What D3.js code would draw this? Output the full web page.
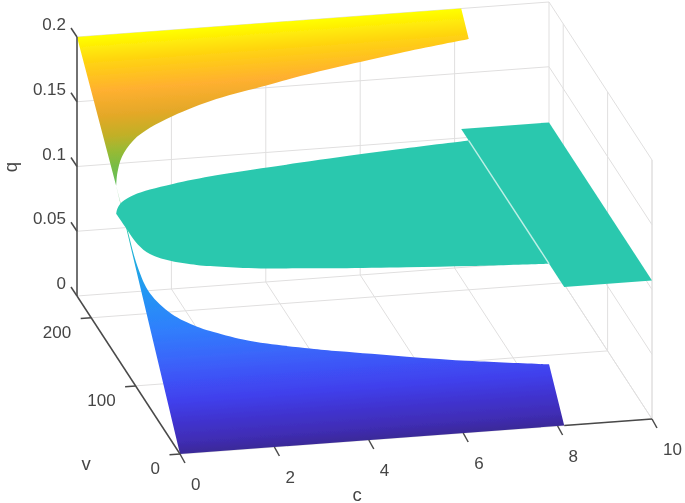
<!DOCTYPE html>
<html>
<head>
<meta charset="utf-8">
<script src="https://cdn.jsdelivr.net/npm/d3@7"></script>
<style>
  html, body { margin: 0; background: #fff; }
  text { font-family: "Liberation Sans", Arial, sans-serif; fill: #454545; stroke: none; }
</style>
</head>
<body>
<div id="chart"></div>
<script>
// tick labels
const cTicks = [0, 2, 4, 6, 8, 10];
const vTicks = [0, 100, 200];
const qTicks = [0, 0.05, 0.1, 0.15, 0.2];

// axis limits
const cMax = 10;
const vMax = 232;
const qMax = 0.2;

// edge of the surface where the plateau starts, high side (c, v)
const highC = [0.05, 0.14, 0.32, 0.64, 1.05, 1.59, 2.58, 3.71, 4.45, 5.32, 6.64, 8.14];
const highV = [149, 156, 164.8, 173.2, 179.4, 185, 192.5, 198, 201.6, 205.2, 210.2, 215];

// low side (c, v)
const lowC = [0.05, 0.06, 0.08, 0.2, 0.54, 1.0, 1.26, 1.9, 2.38, 3.25, 3.85, 5.22, 6.56, 8.14];
const lowV = [149, 128, 104, 89, 77, 69, 66, 60, 56.8, 52.4, 49.6, 44, 38.9, 34];

// both sloped sheets: q read along the sheet for a given v
const sheetV = [0, 232];
const sheetQ = [0, 0.2];

// plateau level and where the flat strip begins
const plateauQ = 0.107;
const stripC = [8.14, 10];

// colour
const colorQ = [0, 0.006, 0.014, 0.025, 0.035, 0.045, 0.06, 0.079, 0.095, 0.107, 0.125, 0.138, 0.145, 0.152, 0.162, 0.174, 0.188, 0.2];
const colorHex = ["#3a2a98", "#3f2db4", "#4032cc", "#4040ec", "#3e52f6", "#3a66fa", "#2f80fc", "#2298f2", "#1faedc", "#2bc8ae",
  "#5cc068", "#78bc44", "#98ba34", "#c0b028", "#e4a828", "#ffb030", "#ffd410", "#ffff00"];

const plateauColor = "#2bc8ae";
const seamColor = "#bdf0e6";
const gridColor = "#e0dfdf";
const axisColor = "#4a4a4a";

const width = 685, height = 503;
const originX = 180, originY = 454;

// oblique view: each data axis adds its own screen offset
const cToX = d3.scaleLinear().domain([0, cMax]).range([0, 472]);
const cToY = d3.scaleLinear().domain([0, cMax]).range([0, -35]);
const vToX = d3.scaleLinear().domain([0, vMax]).range([0, -103]);
const vToY = d3.scaleLinear().domain([0, vMax]).range([0, -158]);
const qToY = d3.scaleLinear().domain([0, qMax]).range([0, -259]);
const sheetScale = d3.scaleLinear().domain(sheetV).range(sheetQ);

let project = (c, v, q) => [
  originX + cToX(c) + vToX(v),
  originY + cToY(c) + vToY(v) + qToY(q)
];

let svg = d3.select("#chart")
  .append("svg")
  .attr("width", width)
  .attr("height", height);

// colour runs across the sheets, perpendicular to the lines of constant v
let p0 = project(0, 0, 0), p1 = project(0, vMax, qMax), pc = project(cMax, 0, 0);
let dirX = pc[0] - p0[0], dirY = pc[1] - p0[1], dirLen = Math.hypot(dirX, dirY);
let nx = -dirY / dirLen, ny = dirX / dirLen;
let reach = (p1[0] - p0[0]) * nx + (p1[1] - p0[1]) * ny;

let defs = svg.append("defs");

// the reference is a soft, slightly blurred screenshot
defs.append("filter").attr("id", "soft")
  .attr("filterUnits", "userSpaceOnUse")
  .attr("x", 0).attr("y", 0).attr("width", width).attr("height", height)
  .append("feGaussianBlur").attr("stdDeviation", 0.5);

let grad = defs.append("linearGradient")
  .attr("id", "sheetFill")
  .attr("gradientUnits", "userSpaceOnUse")
  .attr("x1", p0[0]).attr("y1", p0[1])
  .attr("x2", p0[0] + nx * reach).attr("y2", p0[1] + ny * reach);

grad.selectAll("stop")
  .data(colorQ)
  .enter()
  .append("stop")
  .attr("offset", d => d / qMax)
  .attr("stop-color", (d, i) => colorHex[i]);

let root = svg.append("g").attr("filter", "url(#soft)");

// grid
let gridLines = [];
cTicks.forEach(c => {
  gridLines.push([project(c, 0, 0), project(c, vMax, 0)]);
  gridLines.push([project(c, vMax, 0), project(c, vMax, qMax)]);
});
vTicks.forEach(v => {
  gridLines.push([project(0, v, 0), project(cMax, v, 0)]);
  gridLines.push([project(cMax, v, 0), project(cMax, v, qMax)]);
});
qTicks.forEach(q => {
  gridLines.push([project(0, vMax, q), project(cMax, vMax, q)]);
  gridLines.push([project(cMax, vMax, q), project(cMax, 0, q)]);
});
gridLines.push([project(cMax, 0, 0), project(cMax, 0, qMax)]);

root.append("g")
  .selectAll("line")
  .data(gridLines)
  .enter()
  .append("line")
  .attr("x1", d => d[0][0]).attr("y1", d => d[0][1])
  .attr("x2", d => d[1][0]).attr("y2", d => d[1][1])
  .attr("stroke", gridColor)
  .attr("stroke-width", 1);

// sheets
let curve = d3.line().curve(d3.curveCatmullRom.alpha(0.5));
let straight = d3.line();

let highPts = q => highC.map((c, i) => project(c, highV[i], q === undefined ? sheetScale(highV[i]) : q));
let lowPts = q => lowC.map((c, i) => project(c, lowV[i], q === undefined ? sheetScale(lowV[i]) : q));
let end = stripC[0];

let surfaces = root.append("g");

// yellow side
surfaces.append("path")
  .attr("d", curve(highPts()) + "L" + straight([project(end, vMax, qMax), project(0, vMax, qMax)]).slice(1) + "Z")
  .attr("fill", "url(#sheetFill)");

// blue side
surfaces.append("path")
  .attr("d", curve(lowPts()) + "L" + straight([project(end, 0, 0), project(0, 0, 0)]).slice(1) + "Z")
  .attr("fill", "url(#sheetFill)");

// plateau lens
surfaces.append("path")
  .attr("d", curve(highPts(plateauQ)) + "L" + curve(lowPts(plateauQ).reverse()).slice(1) + "Z")
  .attr("fill", plateauColor);

// flat strip
surfaces.append("path")
  .attr("d", straight([
    project(stripC[0], vMax, plateauQ),
    project(stripC[1], vMax, plateauQ),
    project(stripC[1], 0, plateauQ),
    project(stripC[0], 0, plateauQ)
  ]) + "Z")
  .attr("fill", plateauColor);

// light seam where the lens meets the strip
let seamA = project(stripC[0], highV[highV.length - 1], plateauQ);
let seamB = project(stripC[0], lowV[lowV.length - 1], plateauQ);
surfaces.append("line")
  .attr("x1", seamA[0]).attr("y1", seamA[1])
  .attr("x2", seamB[0]).attr("y2", seamB[1])
  .attr("stroke", seamColor)
  .attr("stroke-width", 1.4);

// axes
let axes = root.append("g").attr("stroke", axisColor).attr("stroke-width", 1.5);

let seg = (a, b) => axes.append("line")
  .attr("x1", a[0]).attr("y1", a[1])
  .attr("x2", b[0]).attr("y2", b[1]);

seg(project(end, 0, 0), project(cMax, 0, 0));
seg(project(0, 0, 0), project(0, vMax, 0));
seg(project(0, vMax, 0), project(0, vMax, qMax));

cTicks.forEach(c => {
  let a = project(c, 0, 0);
  seg(a, [a[0] + 5, a[1] + 9]);
});
vTicks.forEach(v => {
  let a = project(0, v, 0);
  seg(a, [a[0] - 10.5, a[1] + 0.8]);
});
qTicks.forEach(q => {
  let a = project(0, vMax, q);
  seg(a, [a[0] - 6, a[1] - 9]);
});

// labels
let labels = root.append("g").style("font-size", "17px");

labels.selectAll(".clabel")
  .data(cTicks)
  .enter()
  .append("text")
  .attr("class", "clabel")
  .attr("x", d => project(d, 0, 0)[0] + 11)
  .attr("y", d => project(d, 0, 0)[1] + 30)
  .attr("dominant-baseline", "central")
  .text(d => d);

labels.selectAll(".vlabel")
  .data(vTicks)
  .enter()
  .append("text")
  .attr("class", "vlabel")
  .attr("x", d => project(0, d, 0)[0] - 20)
  .attr("y", d => project(0, d, 0)[1] + 14.5)
  .attr("dominant-baseline", "central")
  .attr("text-anchor", "end")
  .text(d => d);

labels.selectAll(".qlabel")
  .data(qTicks)
  .enter()
  .append("text")
  .attr("class", "qlabel")
  .attr("x", 66)
  .attr("y", d => project(0, vMax, d)[1] - 12.5)
  .attr("dominant-baseline", "central")
  .attr("text-anchor", "end")
  .text(d => d);

let names = root.append("g").style("font-size", "18.5px").attr("text-anchor", "middle");

names.append("text").attr("x", 357).attr("y", 494).attr("dominant-baseline", "central").text("c");
names.append("text").attr("x", 86).attr("y", 463).attr("dominant-baseline", "central").text("v");
names.append("text")
  .attr("transform", "translate(10,167)rotate(-90)")
  .attr("dominant-baseline", "central")
  .text("q");
</script>
</body>
</html>
